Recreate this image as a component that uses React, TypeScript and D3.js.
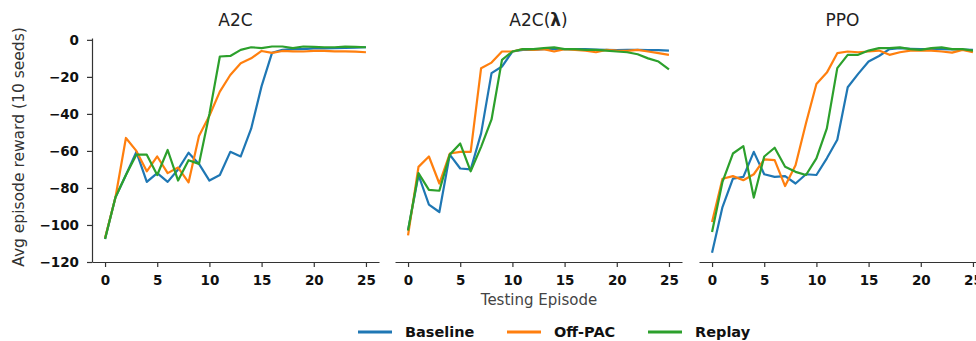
import { useEffect, useRef } from "react";
import * as d3 from "d3";

const episodes = d3.range(0, 26);
const yTicks = [-120, -100, -80, -60, -40, -20, 0];
const xTicks = [0, 5, 10, 15, 20, 25];

const seriesNames = ["Baseline", "Off-PAC", "Replay"];
const seriesColors = ["#1f77b4", "#ff7f0e", "#2ca02c"];

// A2C
const a2cBaseline = [-107.6, -85, -73, -60.5, -76.7, -72, -76.7, -70, -61, -67, -76, -73, -60.5, -63, -48, -25, -7, -5.4, -5, -5, -4.6, -4.6, -4.5, -4.3, -4.2, -4];
const a2cOffPac = [-107, -85, -53, -60, -71, -63, -72, -69, -77, -52, -41, -28, -19, -12.6, -10, -6, -7, -6, -6.2, -6.3, -6, -6, -6.2, -6.2, -6.4, -6.7];
const a2cReplay = [-107.5, -85, -73, -62, -62, -73, -59.5, -76, -65, -67, -40, -9, -8.7, -5.4, -4, -4.5, -3.6, -3.6, -4.5, -3.6, -3.8, -4, -4, -3.7, -3.8, -4];

// A2C(λ)
const a2clBaseline = [-102.9, -73, -89, -93, -62, -69.5, -70, -50.5, -18, -14.4, -6.3, -5.4, -5.4, -5, -5, -5, -5, -5, -5.2, -5.4, -5.6, -5.4, -5.4, -5.6, -5.6, -5.8];
const a2clOffPac = [-105.6, -68.6, -63, -77.6, -61.4, -60.5, -60.5, -15.3, -12.3, -6.3, -6.3, -5, -5.4, -5, -6.3, -5, -5.4, -5.8, -6.7, -5.4, -5.8, -6, -5.4, -6.3, -7.2, -8.1];
const a2clReplay = [-103, -72, -81, -81.5, -62, -56, -71, -57.8, -43, -10.8, -6.3, -5, -5, -4.5, -4.1, -5, -5, -5.4, -5.4, -5.8, -6.3, -6.7, -7.8, -10, -11.7, -15.9];

// PPO
const ppoBaseline = [-115, -90.3, -75, -74, -60.5, -72.6, -74, -73.6, -77.6, -72.6, -73, -64, -54, -25.6, -18.4, -11.7, -8.7, -5, -4.5, -4.8, -5, -5, -5, -5.2, -5.2, -5.4];
const ppoOffPac = [-98.4, -75, -73.6, -75.8, -72.6, -64.6, -65, -79, -67.7, -45, -23.8, -17.7, -7.2, -6.3, -6.7, -6.3, -5.8, -8.1, -6.7, -5.8, -5.8, -5.8, -6.3, -6.9, -5.4, -6.7];
const ppoReplay = [-103.8, -76.7, -61.4, -57.4, -85.2, -63, -58.3, -68.6, -71.3, -73, -64, -47.8, -15.3, -8.1, -8.1, -5.8, -4.5, -4.5, -4.1, -5, -5.4, -4.5, -4.1, -5, -5, -5.8];

const panelTitles = ["A2C", "A2C(λ)", "PPO"];
const panelSeries = [
  [a2cBaseline, a2cOffPac, a2cReplay],
  [a2clBaseline, a2clOffPac, a2clReplay],
  [ppoBaseline, ppoOffPac, ppoReplay],
];

export default function App() {
  const ref = useRef<SVGSVGElement>(null);

  useEffect(() => {
    document.body.style.margin = "0";
    document.body.style.overflow = "hidden";

    const width = 976;
    const height = 341;
    const svg = d3.select(ref.current).attr("width", width).attr("height", height);
    svg.selectAll("*").remove();

    const font = "DejaVu Sans, sans-serif";
    const top = 38;
    const bottom = 262;
    const panelLeft = [92, 395, 699];
    const panelWidth = 287;

    const y = d3.scaleLinear().domain([-120, 1]).range([bottom, top]);

    panelSeries.forEach((series, p) => {
      const x = d3
        .scaleLinear()
        .domain([-1.25, 26.25])
        .range([panelLeft[p], panelLeft[p] + panelWidth]);

      const g = svg.append("g");

      // x axis
      const xAxis = g
        .append("g")
        .attr("transform", `translate(0,${bottom})`)
        .call(d3.axisBottom(x).tickValues(xTicks).tickSize(5).tickPadding(8).tickSizeOuter(0));
      xAxis.select(".domain").attr("stroke", "#333").attr("stroke-width", 1.2);
      xAxis.selectAll("line").attr("stroke", "#333").attr("stroke-width", 1.2);
      xAxis
        .selectAll("text")
        .attr("fill", "#111")
        .style("font-family", font)
        .style("font-size", "13.5px")
        .style("font-weight", "bold");

      if (p === 0) {
        const yAxis = g
          .append("g")
          .attr("transform", `translate(${panelLeft[0]},0)`)
          .call(
            d3
              .axisLeft(y)
              .tickValues(yTicks)
              .tickSize(5)
              .tickPadding(8)
              .tickSizeOuter(0)
              .tickFormat((d) => d3.format("d")(d as number).replace("-", "\u2212"))
          );
        yAxis.select(".domain").attr("stroke", "#333").attr("stroke-width", 1.2);
        yAxis.selectAll("line").attr("stroke", "#333").attr("stroke-width", 1.2);
        yAxis
          .selectAll("text")
          .attr("fill", "#111")
          .style("font-family", font)
          .style("font-size", "13.5px")
          .style("font-weight", "bold");
      }

      const line = d3
        .line<number>()
        .x((_, i) => x(episodes[i]))
        .y((d) => y(d));

      series.forEach((vals, s) => {
        g.append("path")
          .datum(vals)
          .attr("fill", "none")
          .attr("stroke", seriesColors[s])
          .attr("stroke-width", 2.2)
          .attr("stroke-linejoin", "round")
          .attr("d", line);
      });

      const title = g
        .append("text")
        .attr("x", x(12.5))
        .attr("y", 26)
        .attr("text-anchor", "middle")
        .attr("fill", "#222")
        .style("font-family", font)
        .style("font-size", "17px");
      if (panelTitles[p] === "A2C(λ)") {
        title.append("tspan").text("A2C(");
        title.append("tspan").attr("font-weight", "bold").text("λ");
        title.append("tspan").text(")");
      } else {
        title.text(panelTitles[p]);
      }
    });

    svg
      .append("text")
      .attr("transform", "rotate(-90)")
      .attr("x", -147)
      .attr("y", 24)
      .attr("text-anchor", "middle")
      .attr("fill", "#333")
      .style("font-family", font)
      .style("font-size", "15.5px")
      .text("Avg episode reward (10 seeds)");

    svg
      .append("text")
      .attr("x", 539)
      .attr("y", 305)
      .attr("text-anchor", "middle")
      .attr("fill", "#444")
      .style("font-family", font)
      .style("font-size", "15px")
      .text("Testing Episode");

    const legendX = [358, 507, 648];
    seriesNames.forEach((name, i) => {
      const lg = svg.append("g").attr("transform", `translate(${legendX[i]},332)`);
      lg.append("line")
        .attr("x1", 0)
        .attr("x2", 34)
        .attr("stroke", seriesColors[i])
        .attr("stroke-width", 2.8);
      lg.append("text")
        .attr("x", 47)
        .attr("y", 5.3)
        .attr("fill", "#111")
        .style("font-family", font)
        .style("font-size", "14.5px")
        .style("font-weight", "bold")
        .text(name);
    });
  }, []);

  return (
    <div>
      <svg ref={ref} style={{ display: "block" }} />
    </div>
  );
}
